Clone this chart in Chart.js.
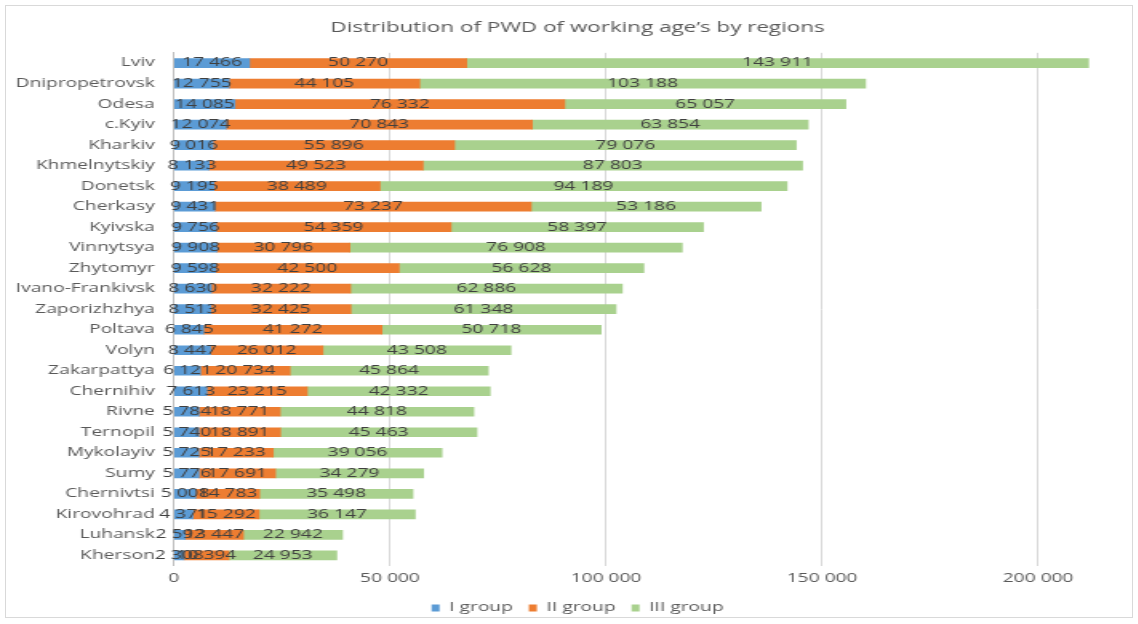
<!DOCTYPE html>
<html>
<head>
<meta charset="utf-8">
<script src="https://cdn.jsdelivr.net/npm/chart.js@4/dist/chart.umd.min.js"></script>
<style>
  html, body { margin: 0; padding: 0; background: #fff; }
  #frame { position: absolute; left: 5px; top: 5px; width: 1126px; height: 611px; border: 1px solid #d9d9d9; }
  #wrap { position: absolute; left: 0; top: 0; width: 711px; height: 624px; transform: scaleX(1.6); transform-origin: 0 0; }
</style>
</head>
<body>
<div id="frame"></div>
<div id="wrap"><canvas id="chart" width="711" height="624"></canvas></div>
<script>
const regions = ['Lviv', 'Dnipropetrovsk', 'Odesa', 'c.Kyiv', 'Kharkiv', 'Khmelnytskiy', 'Donetsk', 'Cherkasy',
  'Kyivska', 'Vinnytsya', 'Zhytomyr', 'Ivano-Frankivsk', 'Zaporizhzhya', 'Poltava', 'Volyn', 'Zakarpattya',
  'Chernihiv', 'Rivne', 'Ternopil', 'Mykolayiv', 'Sumy', 'Chernivtsi', 'Kirovohrad', 'Luhansk', 'Kherson'];
const group1 = [17466, 12755, 14085, 12074, 9016, 8133, 9195, 9431, 9756, 9908, 9598, 8630, 8513, 6845, 8447, 6121,
  7613, 5784, 5740, 5725, 5776, 5008, 4371, 2592, 2308];
const group2 = [50270, 44105, 76332, 70843, 55896, 49523, 38489, 73237, 54359, 30796, 42500, 32222, 32425, 41272, 26012, 20734,
  23215, 18771, 18891, 17233, 17691, 14783, 15292, 13447, 10394];
const group3 = [143911, 103188, 65057, 63854, 79076, 87803, 94189, 53186, 58397, 76908, 56628, 62886, 61348, 50718, 43508, 45864,
  42332, 44818, 45463, 39056, 34279, 35498, 36147, 22942, 24953];
const seriesNames = ['I group', 'II group', 'III group'];
const seriesColors = ['#5B9BD5', '#ED7D31', '#A9D18E'];
const xTicks = [0, 50000, 100000, 150000, 200000];

const font = '"Open Sans", sans-serif';
const textColor = '#595959';

function fmt(n) {
  return String(n).replace(/\B(?=(\d{3})+(?!\d))/g, ' ');
}

// labels centred on each bar segment
const barLabels = {
  id: 'barLabels',
  afterDatasetsDraw(chart) {
    const ctx = chart.ctx;
    ctx.save();
    ctx.font = '12px ' + font;
    ctx.fillStyle = '#404040';
    ctx.textAlign = 'center';
    ctx.textBaseline = 'middle';
    chart.data.datasets.forEach((ds, i) => {
      chart.getDatasetMeta(i).data.forEach((bar, j) => {
        ctx.fillText(fmt(ds.data[j]), (bar.x + bar.base) / 2, bar.y);
      });
    });
    ctx.restore();
  }
};

// nudge title and legend a bit to the right, like the original
const shiftBlocks = {
  id: 'shiftBlocks',
  afterLayout(chart) {
    [chart.titleBlock, chart.legend].forEach(b => {
      if (b) { b.left += 17; b.right += 17; }
    });
  }
};

new Chart(document.getElementById('chart'), {
  type: 'bar',
  data: {
    labels: regions,
    datasets: [group1, group2, group3].map((d, i) => ({
      label: seriesNames[i],
      data: d,
      backgroundColor: seriesColors[i],
      barThickness: 9
    }))
  },
  options: {
    indexAxis: 'y',
    responsive: false,
    animation: false,
    layout: { padding: { top: 10, right: 23, bottom: 0, left: 0 } },
    scales: {
      x: {
        stacked: true,
        min: 0,
        max: 214500,
        afterBuildTicks: axis => { axis.ticks = xTicks.map(v => ({ value: v })); },
        ticks: { color: textColor, font: { family: font, size: 12 }, padding: 6, callback: v => fmt(v) },
        grid: { color: '#d9d9d9', drawTicks: false },
        border: { display: false }
      },
      y: {
        stacked: true,
        afterFit: scale => { scale.width = 108.75; },
        ticks: { color: textColor, font: { family: font, size: 12 }, padding: 4, autoSkip: false },
        grid: { display: false },
        border: { color: '#bfbfbf' }
      }
    },
    plugins: {
      title: {
        display: true,
        text: 'Distribution of PWD of working age’s by regions',
        color: textColor,
        font: { family: font, size: 14, weight: 'normal' },
        padding: { top: 10, bottom: 16 }
      },
      legend: {
        position: 'bottom',
        labels: { color: textColor, font: { family: font, size: 12 }, boxWidth: 5, boxHeight: 7, padding: 10 }
      },
      tooltip: { enabled: false }
    }
  },
  plugins: [barLabels, shiftBlocks]
});
</script>
</body>
</html>
